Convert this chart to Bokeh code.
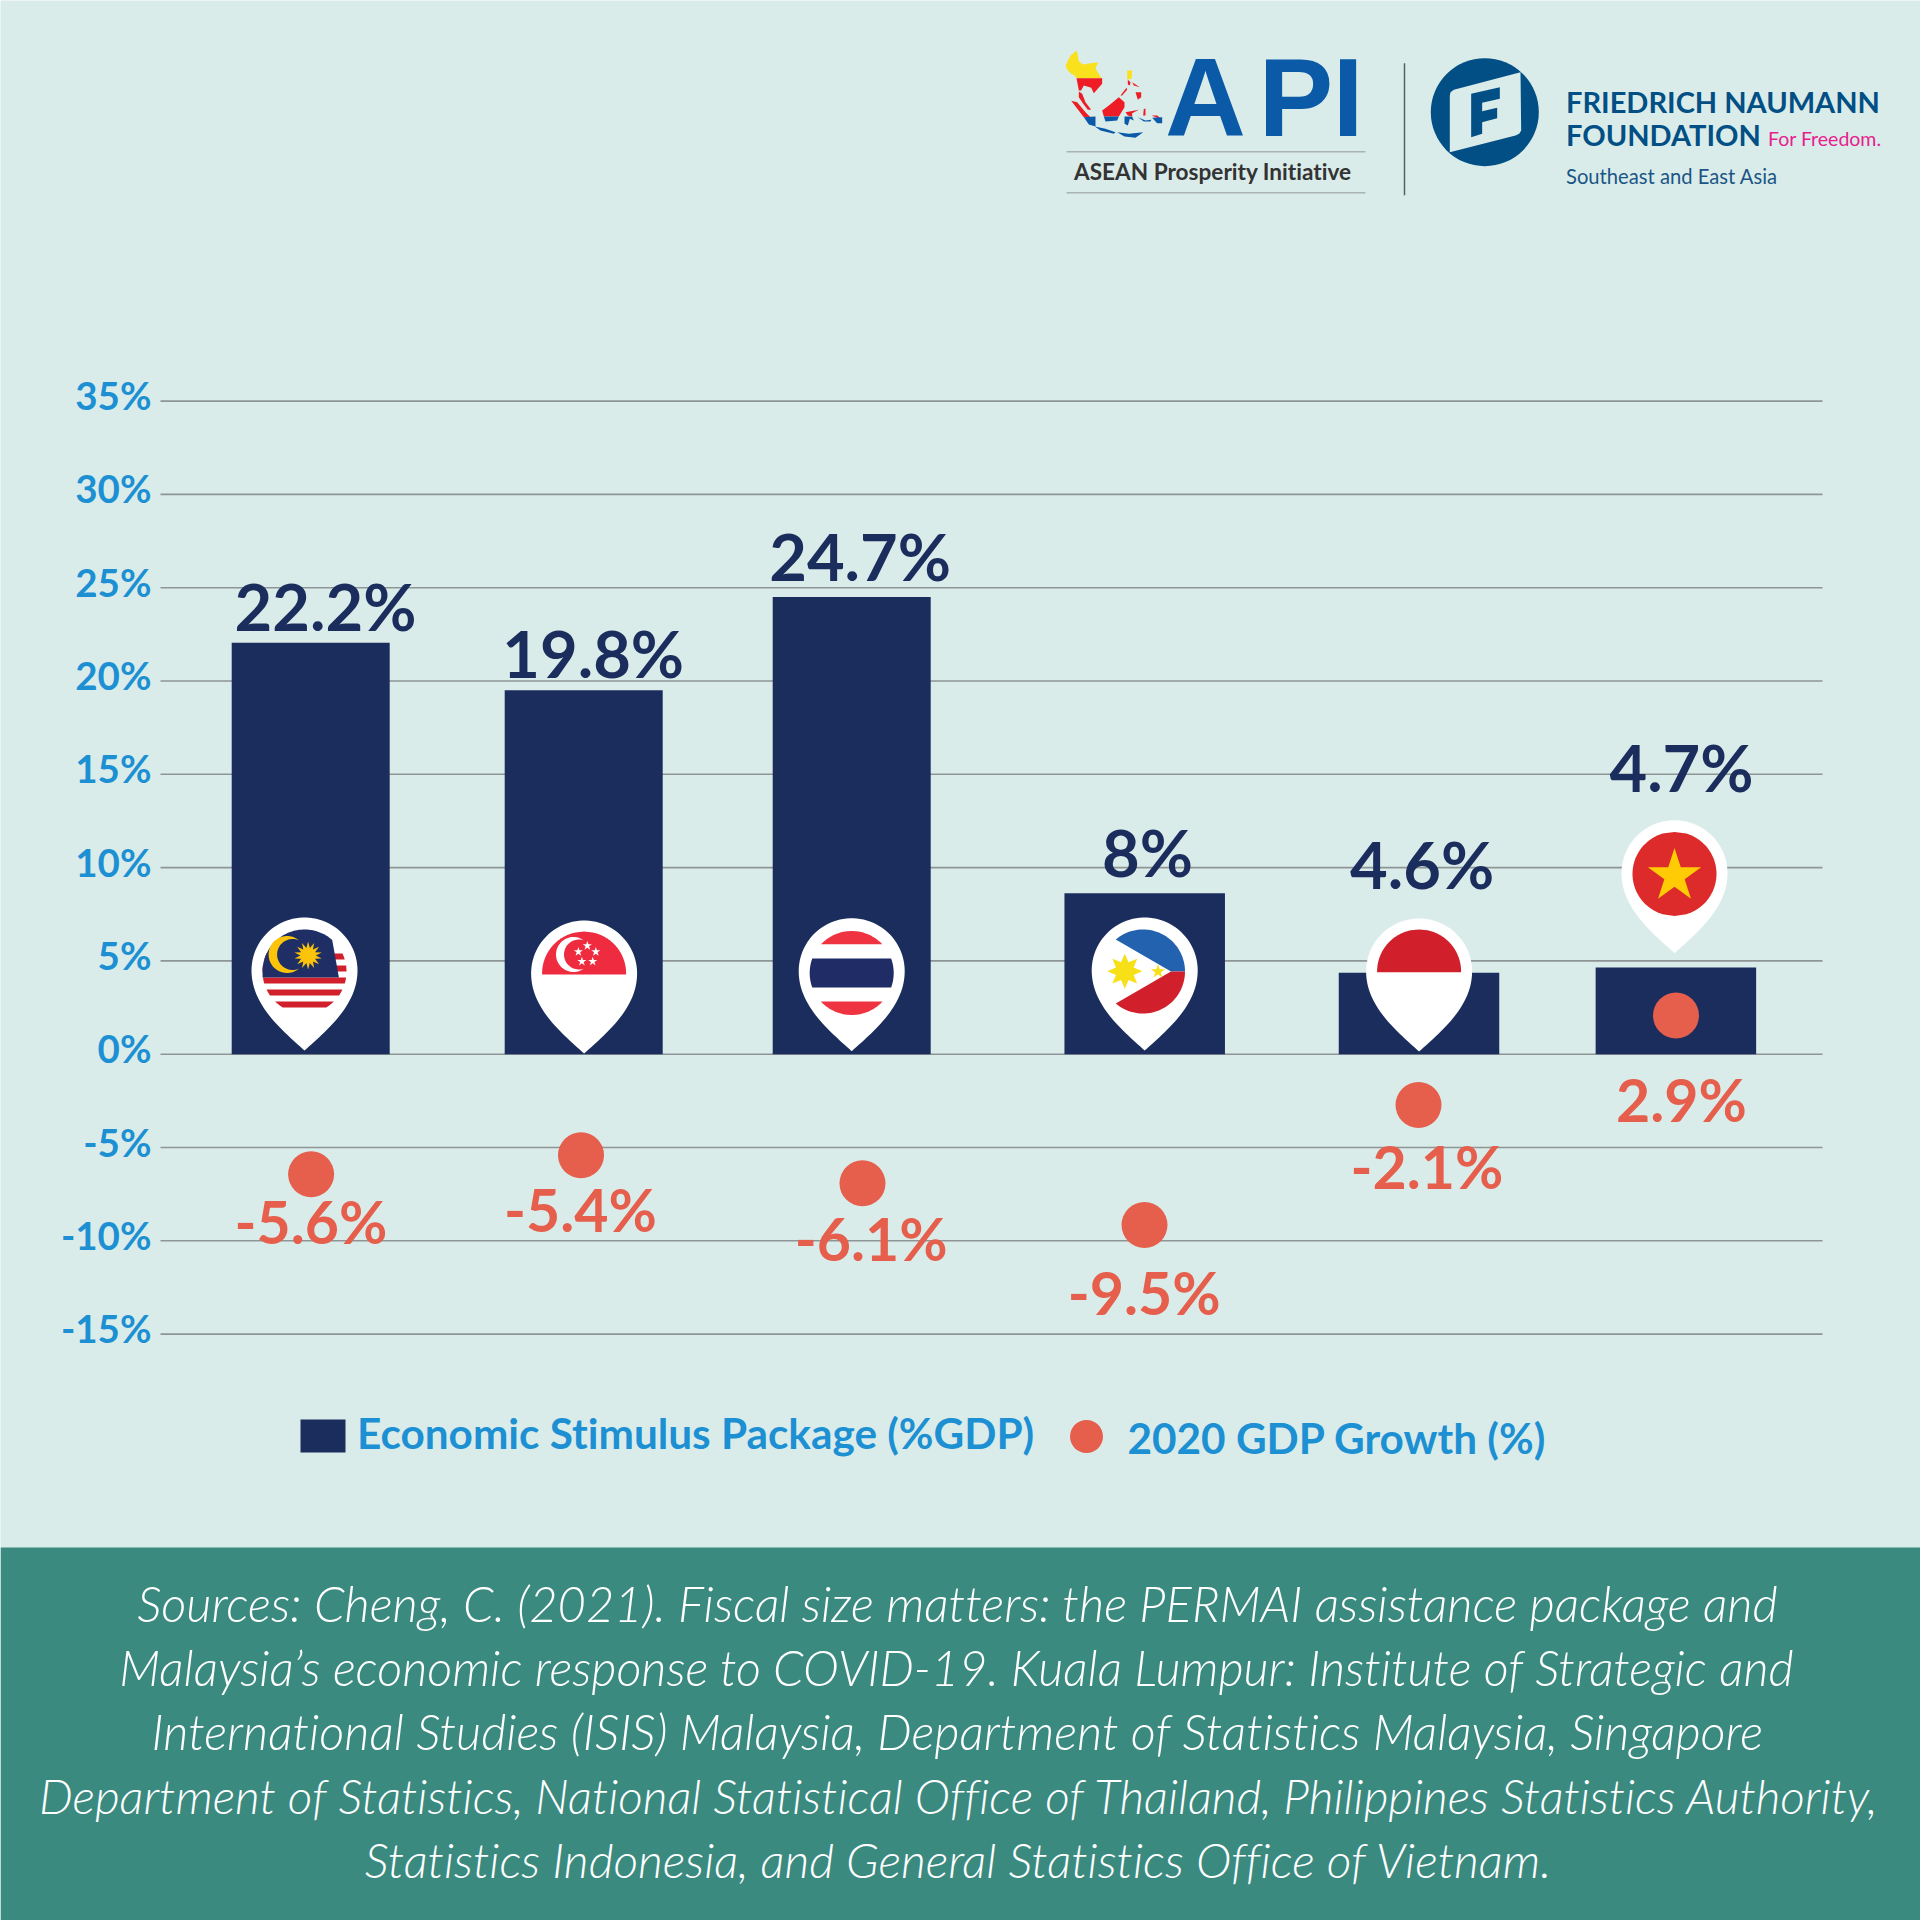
import numpy as np
from bokeh.plotting import figure
from bokeh.models import LinearAxis, FixedTicker, PrintfTickFormatter, Range1d
from bokeh.core.properties import value
from bokeh.embed import file_html
from bokeh.resources import INLINE

# ---- data -------------------------------------------------------------
countries = ["Malaysia", "Singapore", "Thailand", "Philippines", "Indonesia", "Vietnam"]
stimulus_heights = [22.05, 19.5, 24.5, 8.62, 4.37, 4.64]
stimulus_labels = ["22.2%", "19.8%", "24.7%", "8%", "4.6%", "4.7%"]
growth_positions = [-6.43, -5.41, -6.92, -9.15, -2.72, 2.07]
growth_labels = ["-5.6%", "-5.4%", "-6.1%", "-9.5%", "-2.1%", "2.9%"]
tick_values = [-15, -10, -5, 0, 5, 10, 15, 20, 25, 30, 35]
legend_labels = ["Economic Stimulus Package (%GDP)", "2020 GDP Growth (%)"]
source_lines = [
    "Sources: Cheng, C. (2021). Fiscal size matters: the PERMAI assistance package and",
    "Malaysia\u2019s economic response to COVID-19. Kuala Lumpur: Institute of Strategic and",
    "International Studies (ISIS) Malaysia, Department of Statistics Malaysia, Singapore",
    "Department of Statistics, National Statistical Office of Thailand, Philippines Statistics Authority,",
    "Statistics Indonesia, and General Statistics Office of Vietnam.",
]

# ---- layout ------------------------------------------------------------
BG, BAND, NAVY, CORAL, BLUE = "#daecea", "#3b8a7f", "#1b2d5c", "#e55f4c", "#1c90d3"
FNF, APIB = "#024f85", "#0a5aa8"
bar_x = [310.2, 583.2, 851.2, 1144.2, 1418.5, 1675.4]
bar_w = [158, 158, 158, 160.5, 160.5, 160.5]
dot_x = [310.6, 580.5, 862, 1144, 1418, 1675.5]
top_label_xy = [(325, 605.5), (592.7, 652.5), (859.6, 555.9), (1147, 851.5), (1421.6, 863.5), (1681, 766.5)]
low_label_xy = [(310.5, 1221), (580, 1208.5), (870.6, 1238), (1143.7, 1292), (1426.5, 1166), (1681, 1098.5)]
source_y = [1602.5, 1666.5, 1730.5, 1795, 1858.5]
source_size = ["48.8px", "48.6px", "48.7px", "47.8px", "48px"]
PX_PER_UNIT, ZERO_PX = 18.66, 1053.7
to_v = lambda py: (ZERO_PX - py) / PX_PER_UNIT

p = figure(width=1920, height=1920, x_range=(0, 1920), y_range=(to_v(1920), to_v(0)),
           output_backend="svg", toolbar_location=None, min_border=0,
           x_axis_location=None, y_axis_location=None,
           background_fill_color=BG, border_fill_color=BG, outline_line_color=None)
p.grid.visible = False
p.extra_y_ranges = {"px": Range1d(1920, 0),
                    "ticks": Range1d(to_v(1920) - 6 / PX_PER_UNIT, to_v(0) - 6 / PX_PER_UNIT)}


def txt(x, y, s, size, color, font="Lato", style="normal", align="center", baseline="middle"):
    xs = x if isinstance(x, list) else [x]
    ys = y if isinstance(y, list) else [y]
    ss = s if isinstance(s, list) else [s]
    p.text(xs, ys, text=ss, text_font=value(font), text_font_style=style, text_font_size=size,
           text_color=color, text_align=align, text_baseline=baseline, y_range_name="px")


def poly(pts, color):
    a = np.array(pts, dtype=float)
    p.patch(a[:, 0], a[:, 1], fill_color=color, line_color=None, y_range_name="px")


# ---- band and grid -----------------------------------------------------
p.quad(left=[0], right=[1920], top=[1547], bottom=[1920], fill_color=BAND, line_color=None, y_range_name="px")
p.segment(x0=[160] * len(tick_values), x1=[1822] * len(tick_values), y0=tick_values, y1=tick_values,
          line_color="#8e9595", line_width=1.6)

axis = LinearAxis(y_range_name="ticks", fixed_location=157, ticker=FixedTicker(ticks=tick_values),
                  formatter=PrintfTickFormatter(format="%d%%"))
axis.axis_line_color = None
axis.major_tick_line_color = None
axis.minor_tick_line_color = None
axis.major_label_standoff = 0
axis.major_label_text_font = "Lato"
axis.major_label_text_font_style = "bold"
axis.major_label_text_font_size = "38.5px"
axis.major_label_text_color = BLUE
p.add_layout(axis, "left")

# ---- bars --------------------------------------------------------------
p.vbar(x=bar_x, width=bar_w, top=stimulus_heights, bottom=0, fill_color=NAVY, line_color=None)


# ---- pins --------------------------------------------------------------
def pin(cx, tip):
    cy = tip - 80
    a = np.linspace(np.pi, 0, 50)
    left = [(cx + 53 * np.cos(t), cy - 53 * np.sin(t)) for t in a]
    t = np.linspace(0, 1, 30)
    bx = 3 * (1 - t) ** 2 * t * 53 + 3 * (1 - t) * t ** 2 * 22 + (1 - t) ** 3 * 53
    by = (1 - t) ** 3 * 80 + 3 * (1 - t) ** 2 * t * 45 + 3 * (1 - t) * t ** 2 * 20
    right = [(cx + u, tip - v) for u, v in zip(bx, by)]
    other = [(cx - u, tip - v) for u, v in zip(bx[::-1], by[::-1])]
    poly(left + right + other, "#ffffff")


def band(cx, cy, top, bot, color, r=42):
    """Part of the disc between two pixel rows."""
    v = np.linspace(max(top, cy - r), min(bot, cy + r), 50)
    h = np.sqrt(np.maximum(r * r - (v - cy) ** 2, 0))
    pts = [(cx + a, b) for a, b in zip(h, v)] + [(cx - a, b) for a, b in zip(h[::-1], v[::-1])]
    poly(pts, color)


def star(cx, cy, r, color, n=5, ratio=0.382):
    a = np.arange(2 * n) * np.pi / n - np.pi / 2
    rr = np.where(np.arange(2 * n) % 2 == 0, r, r * ratio)
    poly(list(zip(cx + rr * np.cos(a), cy + rr * np.sin(a))), color)


def crescent(cx, cy, R, dx, r, color):
    d = dx
    ang_out = np.arccos((d * d + R * R - r * r) / (2 * d * R))
    ang_in = np.pi - np.arccos((d * d + r * r - R * R) / (2 * d * r))
    a1 = np.linspace(ang_out, 2 * np.pi - ang_out, 50)
    a2 = np.linspace(2 * np.pi - ang_in, ang_in, 50)
    pts = [(cx + R * np.cos(t), cy + R * np.sin(t)) for t in a1]
    pts += [(cx + d + r * np.cos(t), cy + r * np.sin(t)) for t in a2]
    poly(pts, color)


# Malaysia
cx, cy = 304, 971
pin(cx, 1050)
for top, bot in [(953, 959), (965, 971), (977, 983), (989, 995), (1001, 1007)]:
    band(cx, cy, top, bot, "#d1202b")
ang = np.linspace(-np.pi / 2 - 1.6, -0.85, 50)
poly([(cx + 42 * np.cos(t), cy + 42 * np.sin(t)) for t in ang] + [(338.4, 977), (262.1, 977)], "#1f2f66")
crescent(286.6, 954, 18.5, 5.5, 15.5, "#fcc30b")
star(307.6, 955, 14, "#fcc30b", n=14, ratio=0.55)
# Singapore
cx, cy = 583.6, 973
pin(cx, 1053)
band(cx, cy, 930, 974, "#ef2b3f")
crescent(573, 954, 17.5, 5.5, 15, "#ffffff")
for sx, sy in [(586.8, 945.3), (595.3, 951.3), (592.2, 961), (581.4, 961), (577.9, 951.3)]:
    star(sx, sy, 4.8, "#ffffff")
# Thailand
cx, cy = 851.2, 972.5
pin(cx, 1050.7)
band(cx, cy, 930, 943.7, "#ef3340")
band(cx, cy, 958, 987, "#1f2c66")
band(cx, cy, 1001, 1015, "#ef3340")
# Philippines
cx, cy = 1142.5, 971
pin(1144.2, 1050)
ax = np.arctan2(939.3 - cy, 1115.5 - cx)
a = np.linspace(ax, 0, 40)
poly([(cx + 42 * np.cos(t), cy + 42 * np.sin(t)) for t in a] + [(1170.5, cy)], "#2362ae")
poly([(cx + 42 * np.cos(t), cy - 42 * np.sin(t)) for t in a] + [(1170.5, cy)], "#d1202b")
star(1124.3, 970.7, 17.5, "#f7e017", n=8, ratio=0.55)
p.scatter([1124.3], [970.7], size=17, marker="circle", fill_color="#f7e017", line_color=None, y_range_name="px")
star(1157.5, 971, 7.5, "#f7e017")
# Indonesia
cx, cy = 1418.6, 971
pin(cx, 1051)
band(cx, cy, 925, 971.7, "#d1202b")
# Vietnam
cx, cy = 1674, 873.4
pin(cx, 952.7)
band(cx, cy, 825, 920, "#dd2a2a")
star(cx, 875.5, 28, "#ffcb05")

# ---- growth dots and labels ---------------------------------------------
p.scatter(dot_x, growth_positions, size=46, marker="circle", fill_color=CORAL, line_color=None)
txt([a for a, _ in top_label_xy], [b for _, b in top_label_xy], stimulus_labels, "65px", NAVY, style="bold")
txt([a for a, _ in low_label_xy], [b for _, b in low_label_xy], growth_labels, "59px", CORAL, style="bold")

# ---- legend ------------------------------------------------------------
p.quad(left=[300], right=[345], top=[1419], bottom=[1452], fill_color=NAVY, line_color=None, y_range_name="px")
txt(356.5, 1431.5, legend_labels[0], "42.3px", BLUE, style="bold", align="left")
p.scatter([1086], [1436], size=33, marker="circle", fill_color=CORAL, line_color=None, y_range_name="px")
txt(1127, 1436.5, legend_labels[1], "42.3px", BLUE, style="bold", align="left")

# ---- source text --------------------------------------------------------
for line, y, size in zip(source_lines, source_y, source_size):
    txt(956, y, line, size, "#ffffff", font="Lato Light", style="italic")

# ---- logos --------------------------------------------------------------
mx = lambda pts: [(1050 + u / 3, 40 + v / 3) for u, v in pts]
for pts, col in [
    ([(45, 75), (60, 45), (78, 30), (82, 45), (85, 62), (98, 72), (120, 68), (143, 65), (135, 85), (153, 113), (78, 113), (72, 105), (62, 100), (50, 88)], "#f9e11e"),
    ([(78, 113), (155, 113), (155, 130), (130, 158), (122, 142), (100, 135), (92, 150), (85, 150)], "#ee1c25"),
    ([(85, 153), (95, 160), (105, 185), (122, 208), (112, 208), (98, 190), (85, 170)], "#ee1c25"),
    ([(62, 181), (80, 185), (105, 215), (120, 230), (100, 230)], "#ee1c25"),
    ([(100, 230), (135, 228), (135, 258), (115, 252)], "#0a5aa8"),
    ([(205, 170), (222, 185), (222, 200), (205, 228), (160, 228), (155, 210), (175, 195)], "#ee1c25"),
    ([(160, 228), (205, 228), (200, 240), (165, 243)], "#0a5aa8"),
    ([(133, 258), (165, 265), (195, 275), (190, 280), (150, 270)], "#0a5aa8"),
    ([(200, 275), (235, 280), (278, 275), (255, 292), (222, 288)], "#0a5aa8"),
    ([(225, 215), (265, 208), (245, 218), (245, 228), (232, 225)], "#ee1c25"),
    ([(222, 228), (245, 228), (250, 240), (238, 235), (232, 255), (222, 250)], "#0a5aa8"),
    ([(230, 90), (245, 90), (243, 115), (230, 118)], "#f9e11e"),
    ([(232, 118), (240, 125), (238, 135), (232, 132)], "#ee1c25"),
    ([(255, 155), (272, 155), (272, 170), (262, 178)], "#ee1c25"),
    ([(245, 125), (268, 140), (250, 135)], "#ee1c25"),
    ([(228, 142), (210, 165), (215, 165), (230, 148)], "#ee1c25"),
    ([(303, 225), (320, 225), (332, 235), (320, 232)], "#ee1c25"),
    ([(305, 232), (335, 230), (335, 248), (320, 248)], "#0a5aa8"),
    ([(280, 205), (285, 205), (285, 225), (278, 225)], "#ee1c25"),
    ([(262, 230), (285, 240), (302, 238), (300, 243), (280, 243)], "#0a5aa8"),
]:
    poly(mx(pts), col)

txt(1205, 97, "A", "112px", APIB, font="Liberation Sans", style="bold")
txt(1258, 97, "P", "112px", APIB, font="Liberation Sans", style="bold", align="left")
txt(1332, 97, "I", "112px", APIB, font="Liberation Sans", style="bold", align="left")
p.segment(x0=[1066, 1066], x1=[1365, 1365], y0=[151.3, 192.3], y1=[151.3, 192.3], line_color="#aab2b2",
          line_width=1.5, y_range_name="px")
txt(1212.7, 171, "ASEAN Prosperity Initiative", "22.6px", "#333333", style="bold")
p.segment(x0=[1404], x1=[1404], y0=[62.7], y1=[194.7], line_color="#556060", line_width=1.5, y_range_name="px")

p.scatter([1484.3], [111.7], size=108, marker="circle", fill_color=FNF, line_color=None, y_range_name="px")
fx = lambda pts: [(1420 + u / 3, 50 + v / 3) for u, v in pts]
poly(fx([(88, 135), (90, 125), (100, 118), (300, 65), (302, 240), (296, 250), (285, 255), (88, 305)]), BG)
poly(fx([(152, 130), (238, 110), (238, 145), (185, 157), (185, 182), (230, 172), (230, 203), (185, 215), (185, 250), (152, 260)]), FNF)
txt(1565.5, 100.5, "FRIEDRICH NAUMANN", "29px", FNF, font="Lato", style="bold", align="left")
txt(1565.5, 133.5, "FOUNDATION", "29px", FNF, font="Lato", style="bold", align="left")
txt(1767.5, 137.5, "For Freedom.", "19.5px", "#e6218e", align="left")
txt(1565.5, 175.5, "Southeast and East Asia", "20.2px", "#1b5586", align="left")

html = file_html(p, INLINE).replace("</head>", "<style>html{font-variant-ligatures:none}</style></head>", 1)
open("out.html", "w").write(html)
